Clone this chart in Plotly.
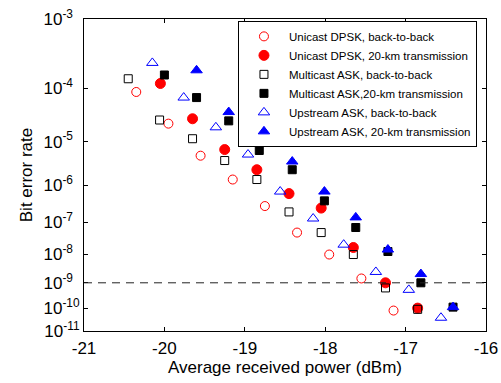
import numpy as np
import plotly.graph_objects as go

# ---- data ----
uni_b2b_x = [-20.35, -19.95, -19.55, -19.15, -18.75, -18.35, -17.95, -17.55, -17.15]
uni_b2b_ber = [8.6e-5, 2.3e-5, 5.0e-6, 1.4e-6, 2.9e-7, 5.0e-8, 1.0e-8, 1.45e-9, 7.9e-11]

uni_20_x = [-20.05, -19.65, -19.25, -18.85, -18.45, -18.05, -17.65, -17.25, -16.85]
uni_20_ber = [1.19e-4, 2.85e-5, 6.8e-6, 2.4e-6, 6.2e-7, 2.55e-7, 1.7e-8, 1.0e-9, 1.0e-10]

multi_b2b_x = [-20.45, -20.06, -19.65, -19.25, -18.85, -18.45, -18.05, -17.65, -17.25, -16.85]
multi_b2b_ber = [1.42e-4, 2.7e-5, 1.15e-5, 3.9e-6, 1.4e-6, 2.0e-7, 5.0e-8, 1.0e-8, 6.4e-10, 8.9e-11]

multi_20_x = [-20.0, -19.6, -19.2, -18.82, -18.41, -18.01, -17.62, -17.22, -16.81, -16.41]
multi_20_ber = [1.63e-4, 6.9e-5, 2.6e-5, 6.5e-6, 2.4e-6, 4.0e-7, 7.1e-8, 1.26e-8, 1.0e-9, 1.1e-10]

up_b2b_x = [-20.15, -19.76, -19.36, -18.96, -18.56, -18.15, -17.77, -17.37, -16.96, -16.56]
up_b2b_ber = [2.5e-4, 6.9e-5, 1.95e-5, 5.3e-6, 7.0e-7, 1.3e-7, 2.1e-8, 2.5e-9, 5.4e-10, 3.9e-11]

up_20_x = [-19.6, -19.2, -18.82, -18.41, -18.01, -17.62, -17.22, -16.81, -16.41]
up_20_ber = [1.93e-4, 3.8e-5, 1.15e-5, 3.7e-6, 7.0e-7, 1.4e-7, 1.46e-8, 2.1e-9, 1.1e-10]

y_tick_exps = [3, 4, 5, 6, 7, 8, 9, 10, 11]
x_ticks = [-21, -20, -19, -18, -17, -16]
threshold_ber = 1e-9


def ber_scale(ber):
    """BER axis: log10(-log10(BER))"""
    return np.log10(-np.log10(np.asarray(ber, dtype=float)))


FONT = "Arial, Liberation Sans, sans-serif"

series = [
    ("Unicast DPSK, back-to-back", uni_b2b_x, uni_b2b_ber, "circle-open", "red", 9),
    ("Unicast DPSK, 20-km transmission", uni_20_x, uni_20_ber, "circle", "red", 10),
    ("Multicast ASK, back-to-back", multi_b2b_x, multi_b2b_ber, "square-open", "black", 8),
    ("Multicast ASK,20-km transmission", multi_20_x, multi_20_ber, "square", "black", 8),
    ("Upstream ASK, back-to-back", up_b2b_x, up_b2b_ber, "triangle-up-open", "blue", 10),
    ("Upstream ASK, 20-km transmission", up_20_x, up_20_ber, "triangle-up", "blue", 10),
]

fig = go.Figure()
for name, xs, bers, sym, col, sz in series:
    fig.add_trace(go.Scatter(
        x=xs, y=ber_scale(bers), mode="markers", name=name,
        marker=dict(symbol=sym, color=col, size=sz, line=dict(color=col, width=1)),
    ))

fig.add_shape(type="line", xref="x", yref="y",
              x0=-21, x1=-16,
              y0=float(ber_scale(threshold_ber)), y1=float(ber_scale(threshold_ber)),
              line=dict(color="#222222", width=1, dash="8px,6px"))

yt = ber_scale([10.0 ** (-e) for e in y_tick_exps])
ytext = []
for e in y_tick_exps:
    pad = "\u2007" if e < 10 else ""
    ytext.append("10<sup>-%d%s</sup>" % (e, pad))

fig.update_layout(
    template="none",
    width=501, height=383,
    margin=dict(l=84, r=15, t=19, b=52, autoexpand=False),
    paper_bgcolor="white", plot_bgcolor="white",
    font=dict(family=FONT, size=17, color="black"),
    showlegend=True,
    legend=dict(x=0.383, y=0.994, xanchor="left", yanchor="top",
                bordercolor="black", borderwidth=1, bgcolor="white",
                itemwidth=40,
                font=dict(size=11.5, family=FONT, color="black")),
    xaxis=dict(range=[-21, -16], tickvals=x_ticks, ticktext=[str(v) for v in x_ticks],
               automargin=False,
               showgrid=False, zeroline=False, showline=True, linecolor="black",
               linewidth=1, mirror="ticks", ticks="inside", ticklen=4,
               tickcolor="black", tickfont=dict(size=17), ticklabelstandoff=2,
               title=dict(text="Average received power (dBm)", standoff=2,
                          font=dict(size=17))),
    yaxis=dict(range=[float(yt[-1]), float(yt[0])], tickvals=list(yt),
               ticktext=ytext, automargin=False,
               showgrid=False, zeroline=False, showline=True, linecolor="black",
               linewidth=1, mirror="ticks", ticks="inside", ticklen=4,
               tickcolor="black", ticklabelstandoff=0, tickfont=dict(size=17),
               title=dict(text="Bit error rate", standoff=6, font=dict(size=17))),
)

fig.write_html("out.html", config={"displayModeBar": False},
               post_script="document.body.style.margin='0px';document.body.style.overflow='hidden';")
